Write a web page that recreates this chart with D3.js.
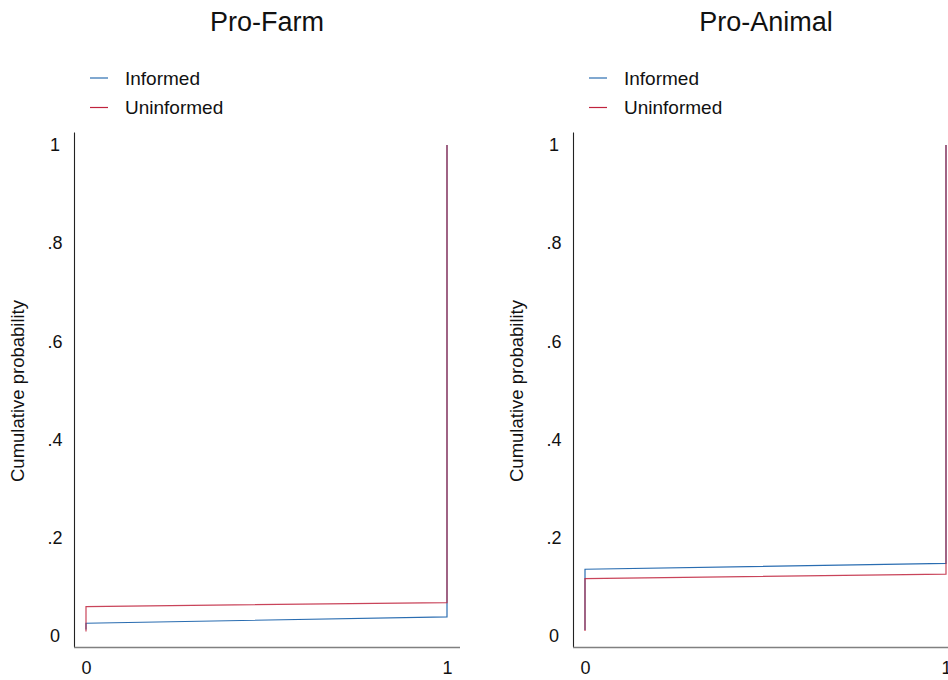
<!DOCTYPE html>
<html><head><meta charset="utf-8">
<script src="https://cdn.jsdelivr.net/npm/d3@7"></script>
<style>body{margin:0;background:#fff;} svg{display:block;font-family:"Liberation Sans",Arial,sans-serif;}</style>
</head><body>
<svg id="c" width="948" height="680"></svg>
<script>
const panelTitles = ["Pro-Farm", "Pro-Animal"];
const seriesNames = ["Informed", "Uninformed"];
const seriesColors = ["#2a6db1", "#c0233d"];
const stepX = [0, 0, 1, 1];
const farmInformed = [0.013, 0.026, 0.039, 1];
const farmUninformed = [0.009, 0.060, 0.068, 1];
const animalInformed = [0.012, 0.136, 0.148, 1];
const animalUninformed = [0.010, 0.117, 0.126, 1];
const yTicks = [0, 0.2, 0.4, 0.6, 0.8, 1];
const yTickLabels = ["0", ".2", ".4", ".6", ".8", "1"];
const xTicks = [0, 1];
const xTickLabels = ["0", "1"];
const yTitle = "Cumulative probability";

const panels = [
  {title: panelTitles[0], series: [farmInformed, farmUninformed]},
  {title: panelTitles[1], series: [animalInformed, animalUninformed]}
];

const svg = d3.select("#c");
const offsets = [0, 499];
const FF = "Liberation Sans, Arial, sans-serif";

panels.forEach((p, i) => {
  const g = svg.append("g").attr("transform", `translate(${offsets[i]},0)`);
  const x = d3.scaleLinear().domain([0, 1]).range([86, 447]);
  const y = d3.scaleLinear().domain([0, 1]).range([636, 145]);
  const axisX = 74.5, axisY = 647.5;

  // title
  g.append("text").attr("x", 267).attr("y", 31).attr("text-anchor", "middle")
    .attr("font-size", 27).attr("fill", "#111").text(p.title);

  // legend
  seriesNames.forEach((n, k) => {
    const ly = 78 + k * 29.5;
    g.append("line").attr("x1", 90).attr("x2", 108).attr("y1", ly).attr("y2", ly)
      .attr("stroke", seriesColors[k]).attr("stroke-width", 1.2);
    g.append("text").attr("x", 125).attr("y", ly + 6.5).attr("font-size", 19)
      .attr("fill", "#111").text(n);
  });

  // y axis
  const ya = g.append("g").attr("transform", `translate(${axisX},0)`)
    .call(d3.axisLeft(y).tickValues(yTicks).tickSize(0)
      .tickFormat((d, j) => yTickLabels[j]));
  ya.select(".domain").remove();
  ya.selectAll("text").attr("x", -19.5).attr("text-anchor", "middle")
    .attr("font-size", 18).attr("fill", "#111").attr("font-family", FF);
  g.append("line").attr("x1", axisX).attr("x2", axisX).attr("y1", 132.5).attr("y2", axisY)
    .attr("stroke", "#222").attr("stroke-width", 1.1);

  // x axis
  const xa = g.append("g").attr("transform", `translate(0,${axisY})`)
    .call(d3.axisBottom(x).tickValues(xTicks).tickSize(0)
      .tickFormat((d, j) => xTickLabels[j]));
  xa.select(".domain").remove();
  xa.selectAll("text").attr("y", 14).attr("font-size", 18).attr("fill", "#111")
    .attr("font-family", FF);
  g.append("line").attr("x1", axisX - 0.5).attr("x2", 460).attr("y1", axisY).attr("y2", axisY)
    .attr("stroke", "#808080").attr("stroke-width", 1.6);

  // y title
  g.append("text").attr("transform", `translate(24,391) rotate(-90)`)
    .attr("text-anchor", "middle").attr("font-size", 18.5).attr("fill", "#111").text(yTitle);

  // lines
  const line = d3.line().x((d, j) => x(stepX[j])).y(d => y(d));
  p.series.forEach((s, k) => {
    g.append("path").datum(s).attr("d", line).attr("fill", "none")
      .attr("stroke", seriesColors[k]).attr("stroke-width", 1.2)
      .attr("stroke-opacity", k === 1 ? 0.85 : 1);
  });
});
</script>
</body></html>
